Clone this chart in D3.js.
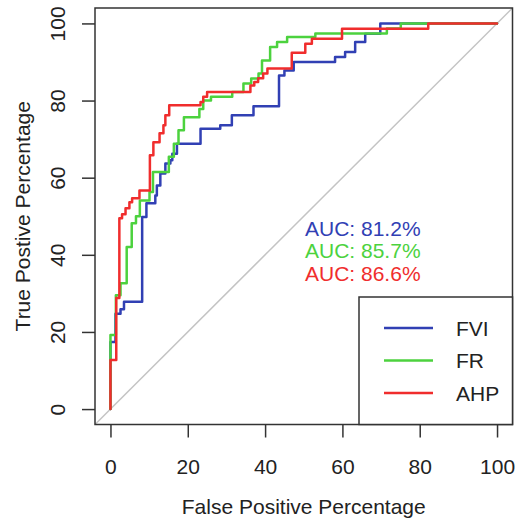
<!DOCTYPE html>
<html>
<head>
<meta charset="utf-8">
<script src="https://cdn.jsdelivr.net/npm/d3@7/dist/d3.min.js"></script>
<style>
  html, body { margin: 0; padding: 0; background: #fff; }
  text { font-family: "Liberation Sans", Arial, sans-serif; }
</style>
</head>
<body>
<svg id="chart" width="515" height="519"></svg>
<script>
// ROC curves: each point is [false positive %, true positive %] at a step.
const fviPoints = [
  [0, 0], [0, 17.4], [1.3, 24.7], [2.6, 25.9], [3.5, 27.8], [8.2, 49.8],
  [9.3, 53.4], [11.6, 55.4], [12.0, 58.0], [12.9, 61.1], [14.2, 63.7],
  [15.5, 64.5], [16.0, 66.2], [17.2, 68.8], [23.3, 72.7], [28.4, 73.6],
  [31.4, 76.2], [37.0, 78.5], [43.6, 86.5], [45.0, 87.8], [47.4, 90.0],
  [58.1, 91.3], [60.7, 92.6], [63.3, 95.2], [65.9, 97.3], [69.8, 100],
  [100, 100]
];
const frPoints = [
  [0, 0], [0, 19.2], [1.4, 29.5], [2.6, 32.6], [4.2, 42.0], [5.5, 48.2],
  [6.6, 50.0], [7.6, 54.1], [10.1, 56.3], [11.0, 61.5], [15.1, 65.4],
  [16.4, 68.8], [17.6, 72.3], [19.0, 75.7], [23.0, 77.8], [24.0, 80.0],
  [26.0, 81.0], [31.5, 82.2], [34.4, 84.4], [36.4, 85.7], [38.3, 87.0],
  [39.2, 90.4], [41.3, 93.9], [43.1, 95.2], [45.7, 96.5], [53.0, 97.4],
  [71.5, 98.7], [75.1, 100], [100, 100]
];
const ahpPoints = [
  [0, 0], [0, 12.7], [1.5, 28.8], [2.3, 49.5], [3.0, 50.5], [3.9, 52.1],
  [4.9, 53.6], [5.6, 54.7], [7.5, 56.7], [10.2, 65.8], [11.1, 69.2],
  [12.7, 71.5], [13.7, 73.6], [14.2, 76.2], [15.2, 78.8], [23.3, 79.6],
  [24.0, 81.0], [25.0, 82.2], [36.2, 83.9], [37.2, 84.8], [38.2, 85.8],
  [39.5, 87.0], [40.6, 88.3], [46.9, 92.4], [50.4, 94.7], [52.1, 96.0],
  [59.9, 98.6], [82.2, 100], [100, 100]
];
const seriesNames = ["FVI", "FR", "AHP"];
const aucValues = [81.2, 85.7, 86.6];
const xTicks = [0, 20, 40, 60, 80, 100];
const yTicks = [0, 20, 40, 60, 80, 100];

const colors = ["#3140b4", "#4cd23e", "#f02d2d"];
const seriesPoints = [fviPoints, frPoints, ahpPoints];

const svg = d3.select("#chart");
const fontSize = 21;

// plot region (R-style 4% padding around 0..100)
const x = d3.scaleLinear().domain([-4, 104]).range([95, 512.5]);
const y = d3.scaleLinear().domain([-4, 104]).range([424.5, 8]);

// chance diagonal
svg.append("line")
  .attr("x1", x(-4)).attr("y1", y(-4))
  .attr("x2", x(104)).attr("y2", y(104))
  .attr("stroke", "#c4c4c4").attr("stroke-width", 1.5);

// step curves
const line = d3.line()
  .x(d => x(d[0]))
  .y(d => y(d[1]))
  .curve(d3.curveStepAfter);

seriesPoints.forEach((pts, i) => {
  svg.append("path")
    .datum(pts)
    .attr("d", line)
    .attr("fill", "none")
    .attr("stroke", colors[i])
    .attr("stroke-width", 2.5)
    .attr("stroke-linejoin", "round")
    .attr("stroke-linecap", "round");
});

// frame
svg.append("rect")
  .attr("x", x(-4)).attr("y", y(104))
  .attr("width", x(104) - x(-4)).attr("height", y(-4) - y(104))
  .attr("fill", "none").attr("stroke", "#333").attr("stroke-width", 1.5);

// x axis
const xAxis = d3.axisBottom(x).tickValues(xTicks).tickSize(13).tickPadding(22);
const gx = svg.append("g").attr("transform", `translate(0,${y(-4)})`).call(xAxis);
gx.select(".domain").remove();
gx.selectAll(".tick line").attr("stroke", "#333").attr("stroke-width", 1.5);
gx.selectAll(".tick text")
  .attr("font-size", fontSize).attr("fill", "#222")
  .attr("font-family", "Liberation Sans, Arial, sans-serif")
  .attr("dy", null).attr("y", 0)
  .attr("transform", "translate(0,42)")
  .attr("dominant-baseline", "central");

// y axis
const yAxis = d3.axisLeft(y).tickValues(yTicks).tickSize(13);
const gy = svg.append("g").attr("transform", `translate(${x(-4)},0)`).call(yAxis);
gy.select(".domain").remove();
gy.selectAll(".tick line").attr("stroke", "#333").attr("stroke-width", 1.5);
gy.selectAll(".tick text")
  .attr("font-size", fontSize).attr("fill", "#222")
  .attr("font-family", "Liberation Sans, Arial, sans-serif")
  .attr("x", 0).attr("dy", null)
  .attr("text-anchor", "middle")
  .attr("dominant-baseline", "central")
  .attr("transform", "translate(-38,0) rotate(-90)");

// axis titles
svg.append("text")
  .attr("x", (x(-4) + x(104)) / 2).attr("y", 506)
  .attr("text-anchor", "middle").attr("dominant-baseline", "central")
  .attr("font-size", fontSize).attr("fill", "#222")
  .text("False Positive Percentage");

svg.append("text")
  .attr("transform", `translate(22,${(y(-4) + y(104)) / 2}) rotate(-90)`)
  .attr("text-anchor", "middle").attr("dominant-baseline", "central")
  .attr("font-size", fontSize).attr("fill", "#222")
  .text("True Postive Percentage");

// AUC labels
aucValues.forEach((v, i) => {
  svg.append("text")
    .attr("x", 305).attr("y", 228 + i * 22.5)
    .attr("dominant-baseline", "central")
    .attr("font-size", fontSize).attr("fill", colors[i])
    .text(`AUC: ${v.toFixed(1)}%`);
});

// legend
const lg = svg.append("g");
lg.append("rect")
  .attr("x", 359).attr("y", 297)
  .attr("width", x(104) - 359).attr("height", y(-4) - 297)
  .attr("fill", "#fff").attr("stroke", "#333").attr("stroke-width", 1.5);
seriesNames.forEach((name, i) => {
  const yy = 328 + i * 32.5;
  lg.append("line")
    .attr("x1", 384).attr("x2", 433).attr("y1", yy).attr("y2", yy)
    .attr("stroke", colors[i]).attr("stroke-width", 2.5);
  lg.append("text")
    .attr("x", 456).attr("y", yy)
    .attr("dominant-baseline", "central")
    .attr("font-size", fontSize).attr("fill", "#222")
    .text(name);
});
</script>
</body>
</html>
